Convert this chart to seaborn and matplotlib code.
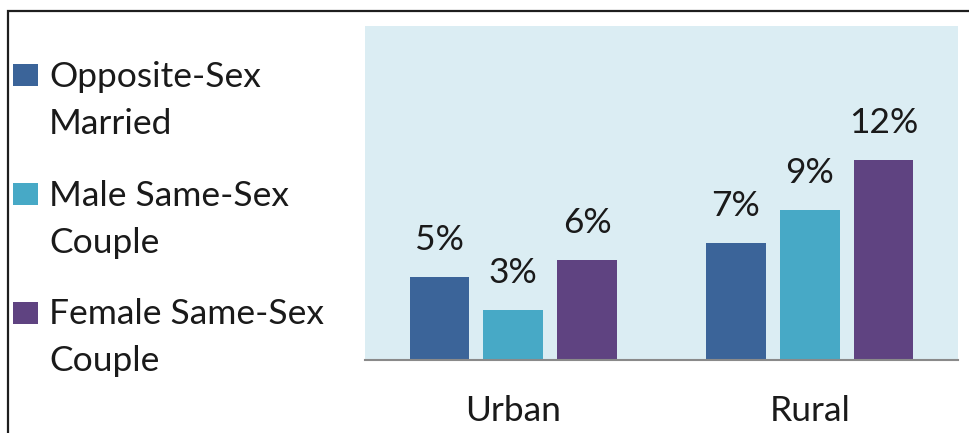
import matplotlib
matplotlib.use("Agg")
import matplotlib.pyplot as plt
from matplotlib.patches import Rectangle
import seaborn as sns
import pandas as pd

# ---- data ----
areas = ["Urban", "Rural"]
groups = ["Opposite-Sex\nMarried", "Male Same-Sex\nCouple", "Female Same-Sex\nCouple"]
opposite_sex = [5, 7]
male_same_sex = [3, 9]
female_same_sex = [6, 12]
colors = ["#3b6499", "#47a9c6", "#5f4381"]

rows = []
for g, vals in zip(groups, [opposite_sex, male_same_sex, female_same_sex]):
    for a, v in zip(areas, vals):
        rows.append({"area": a, "group": g, "pct": v})
df = pd.DataFrame(rows)

W, H = 969, 433
DPI = 100
sns.set_theme(style="white")
plt.rcParams["font.family"] = ["Lato", "DejaVu Sans"]
FS = 25.5
TXT = "#1a1a1a"

fig = plt.figure(figsize=(W / DPI, H / DPI), dpi=DPI)
fig.patch.set_facecolor("white")

def fx(x):
    return x / W

def fy(y):
    return 1 - y / H

ax = fig.add_axes([fx(365), fy(360), fx(958) - fx(365), (360 - 26) / H])
ax.set_facecolor("#dbedf3")

sns.barplot(data=df, x="area", y="pct", hue="group", hue_order=groups,
            order=areas, palette=colors, width=0.747, gap=0.19,
            saturation=1, legend=False, linewidth=0, edgecolor="none", ax=ax)

ax.set_ylim(0, 20)
ax.set_xlim(-0.5, 1.5)
ax.set_xlabel("")
ax.set_ylabel("")
ax.set_yticks([])
for s in ["top", "right", "left"]:
    ax.spines[s].set_visible(False)
ax.spines["bottom"].set_color("#8a8a8a")
ax.spines["bottom"].set_linewidth(1.5)
ax.tick_params(axis="x", length=0, pad=25, labelsize=FS, labelcolor=TXT)

# value labels
for cont in ax.containers:
    for p in cont.patches:
        h = p.get_height()
        ax.annotate(f"{h:g}%", xy=(p.get_x() + p.get_width() / 2, h),
                    xytext=(0, 27 * 72 / DPI), textcoords="offset points",
                    ha="center", va="baseline", fontsize=FS, color=TXT)

# legend (manual, left side)
sq_tops = [64, 183, 302]
base_first = [87, 206, 324]
for g, c, top, b in zip(groups, colors, sq_tops, base_first):
    fig.patches.append(Rectangle((fx(13), fy(top + 22)), fx(25), 22 / H,
                                 transform=fig.transFigure, facecolor=c,
                                 edgecolor="none"))
    for i, line in enumerate(g.split("\n")):
        fig.text(fx(49), fy(b + i * 47), line, fontsize=FS, color=TXT,
                 ha="left", va="baseline")

# outer border (cropped frame)
fig.patches.append(Rectangle((fx(8), -0.1), 1.2, fy(11) + 0.1,
                             transform=fig.transFigure, facecolor="none",
                             edgecolor="#1e1e1e", linewidth=1.6))

fig.savefig("out.png", dpi=DPI)
